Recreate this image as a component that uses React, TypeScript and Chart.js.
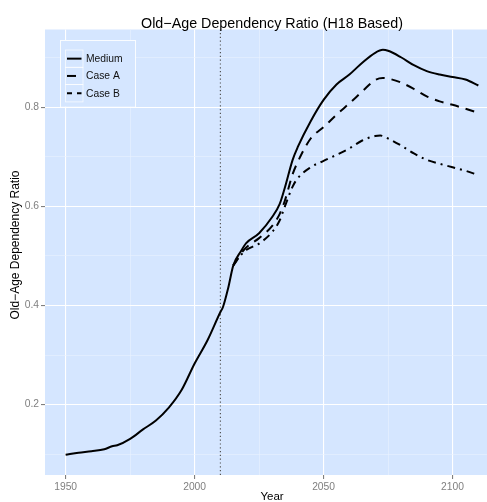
import React, { useEffect, useRef } from "react";
import { Chart, registerables } from "chart.js";

Chart.register(...registerables);

// Old-age dependency ratio, medium variant and two alternative projections
const mediumYears = [1950, 1955, 1960, 1965, 1968, 1970, 1975, 1980, 1985, 1990, 1995, 2000, 2005, 2010, 2011, 2013, 2015, 2018, 2020, 2025, 2030, 2033, 2035, 2038, 2040, 2045, 2050, 2055, 2060, 2065, 2070, 2073, 2075, 2080, 2085, 2090, 2095, 2100, 2105, 2110];
const mediumRatio = [0.099, 0.103, 0.106, 0.110, 0.116, 0.118, 0.131, 0.150, 0.168, 0.194, 0.230, 0.283, 0.330, 0.387, 0.397, 0.435, 0.481, 0.510, 0.526, 0.546, 0.578, 0.605, 0.638, 0.694, 0.720, 0.772, 0.815, 0.846, 0.866, 0.890, 0.910, 0.916, 0.914, 0.901, 0.885, 0.873, 0.866, 0.861, 0.856, 0.844];

const caseAYears = [2015, 2018, 2020, 2025, 2030, 2033, 2035, 2038, 2040, 2045, 2050, 2055, 2060, 2065, 2070, 2073, 2075, 2080, 2085, 2090, 2095, 2100, 2105, 2110];
const caseARatio = [0.481, 0.505, 0.517, 0.536, 0.560, 0.585, 0.612, 0.665, 0.690, 0.737, 0.760, 0.785, 0.808, 0.832, 0.855, 0.859, 0.858, 0.850, 0.837, 0.822, 0.812, 0.805, 0.797, 0.789];

const caseBYears = [2015, 2018, 2020, 2025, 2030, 2033, 2035, 2038, 2040, 2045, 2050, 2055, 2060, 2065, 2070, 2072, 2075, 2080, 2085, 2090, 2095, 2100, 2105, 2110];
const caseBRatio = [0.481, 0.502, 0.512, 0.525, 0.548, 0.572, 0.600, 0.640, 0.657, 0.679, 0.692, 0.704, 0.717, 0.733, 0.742, 0.743, 0.737, 0.723, 0.707, 0.694, 0.686, 0.679, 0.672, 0.663];

const projectionStart = 2010;

const xMajorTicks = [1950, 2000, 2050, 2100];
const xMinorTicks = [1975, 2025, 2075];
const yMajorTicks = [0.2, 0.4, 0.6, 0.8];
const yMinorTicks = [0.1, 0.3, 0.5, 0.7, 0.9];

const X_MIN = 1942;
const X_MAX = 2118;
const Y_MIN = 0.058;
const Y_MAX = 0.957;

const TITLE = "Old\u2212Age Dependency Ratio (H18 Based)";
const X_TITLE = "Year";
const Y_TITLE = "Old\u2212Age Dependency Ratio";

const FONT = '"Liberation Sans", Arial, Helvetica, sans-serif';
const PANEL_BG = "#D5E6FF";
const MAJOR_GRID = "#FFFFFF";
const MINOR_GRID = "#E9F2FF";
const TICK_GREY = "#7F7F7F";

const toPoints = (xs: number[], ys: number[]) => xs.map((x, i) => ({ x, y: ys[i] }));

const isMajor = (v: number, majors: number[]) => majors.some((m) => Math.abs(m - v) < 1e-9);

const chartDecor = {
  id: "chartDecor",
  beforeDraw(chart: any) {
    const { ctx, chartArea: a } = chart;
    ctx.save();
    ctx.fillStyle = PANEL_BG;
    ctx.fillRect(a.left, a.top, a.right - a.left, a.bottom - a.top);
    ctx.restore();
  },
  afterDraw(chart: any) {
    const { ctx, chartArea: a } = chart;
    ctx.save();
    ctx.fillStyle = "#000";

    // main title
    ctx.font = `14.3px ${FONT}`;
    ctx.textAlign = "center";
    ctx.textBaseline = "alphabetic";
    ctx.fillText(TITLE, (a.left + a.right) / 2, 28);

    // axis titles
    ctx.font = `11.5px ${FONT}`;
    ctx.textBaseline = "middle";
    ctx.fillText(X_TITLE, (a.left + a.right) / 2, 497);
    ctx.save();
    ctx.font = `12px ${FONT}`;
    ctx.translate(16, 245);
    ctx.rotate(-Math.PI / 2);
    ctx.fillText(Y_TITLE, 0, 0);
    ctx.restore();

    // legend inside the panel
    const series = chart.data.datasets.filter((d: any) => d.showInLegend);
    const boxX = 60, boxY = 40, boxW = 75, boxH = 66.7;
    const keyX = 65.5, keyW = 17.5, keyH = 17.3, keyTop = 50;
    ctx.fillStyle = PANEL_BG;
    ctx.fillRect(boxX, boxY, boxW, boxH);
    ctx.strokeStyle = "rgba(255,255,255,0.85)";
    ctx.lineWidth = 1;
    ctx.strokeRect(boxX + 0.5, boxY + 0.5, boxW, boxH);
    series.forEach((d: any, i: number) => {
      const ky = keyTop + i * keyH;
      ctx.strokeStyle = "rgba(255,255,255,0.8)";
      ctx.lineWidth = 0.8;
      ctx.setLineDash([]);
      ctx.strokeRect(keyX, ky, keyW, keyH);
      const cy = ky + keyH / 2;
      ctx.strokeStyle = d.borderColor;
      ctx.lineWidth = d.borderWidth;
      ctx.setLineDash(d.legendDash || []);
      ctx.beginPath();
      ctx.moveTo(keyX + 1.5, cy);
      ctx.lineTo(keyX + keyW - 1.5, cy);
      ctx.stroke();
      ctx.setLineDash([]);
      ctx.fillStyle = "#111";
      ctx.font = `10.3px ${FONT}`;
      ctx.textAlign = "left";
      ctx.textBaseline = "middle";
      ctx.fillText(d.label, keyX + keyW + 3, cy + 0.5);
    });
    ctx.restore();
  },
};

export default function App() {
  const canvasRef = useRef<HTMLCanvasElement | null>(null);

  useEffect(() => {
    const canvas = canvasRef.current;
    if (!canvas) return;

    const lineStyle = {
      borderColor: "#000000",
      borderWidth: 2,
      pointRadius: 0,
      fill: false,
      cubicInterpolationMode: "monotone" as const,
      order: 0,
      showInLegend: true,
    };

    const chart = new Chart(canvas, {
      type: "line",
      data: {
        datasets: [
          { ...lineStyle, label: "Medium", data: toPoints(mediumYears, mediumRatio), legendDash: [] },
          { ...lineStyle, label: "Case A", data: toPoints(caseAYears, caseARatio), borderDash: [9, 7], legendDash: [9, 7] },
          { ...lineStyle, label: "Case B", data: toPoints(caseBYears, caseBRatio), borderDash: [8, 5, 2, 5], legendDash: [5, 5] },
          {
            label: "projection start",
            data: [
              { x: projectionStart, y: Y_MIN },
              { x: projectionStart, y: Y_MAX },
            ],
            borderColor: "#555555",
            borderWidth: 1.2,
            borderDash: [1.2, 2.6],
            pointRadius: 0,
            fill: false,
            order: 10,
            showInLegend: false,
          },
        ] as any,
      },
      options: {
        responsive: false,
        maintainAspectRatio: false,
        animation: false,
        devicePixelRatio: 1,
        layout: { padding: { top: 29.5, right: 1, left: 0, bottom: 0 } },
        plugins: {
          legend: { display: false },
          title: { display: false },
          tooltip: { enabled: false },
        },
        scales: {
          x: {
            type: "linear",
            min: X_MIN,
            max: X_MAX,
            border: { display: false },
            afterBuildTicks: (scale: any) => {
              scale.ticks = [...xMajorTicks, ...xMinorTicks].sort((p, q) => p - q).map((value) => ({ value }));
            },
            afterFit: (scale: any) => {
              scale.height = 27;
            },
            grid: {
              color: (c: any) => (isMajor(c.tick.value, xMajorTicks) ? MAJOR_GRID : MINOR_GRID),
              lineWidth: (c: any) => (isMajor(c.tick.value, xMajorTicks) ? 1.1 : 0.6),
              tickColor: (c: any) => (isMajor(c.tick.value, xMajorTicks) ? TICK_GREY : "rgba(0,0,0,0)"),
              tickLength: 4,
              drawTicks: true,
            },
            ticks: {
              autoSkip: false,
              maxRotation: 0,
              padding: 2,
              color: TICK_GREY,
              font: { family: FONT, size: 10.3 },
              callback: (v: any) => (isMajor(Number(v), xMajorTicks) ? String(v) : ""),
            },
          },
          y: {
            type: "linear",
            min: Y_MIN,
            max: Y_MAX,
            border: { display: false },
            afterBuildTicks: (scale: any) => {
              scale.ticks = [...yMajorTicks, ...yMinorTicks].sort((p, q) => p - q).map((value) => ({ value }));
            },
            afterFit: (scale: any) => {
              scale.width = 45;
            },
            grid: {
              color: (c: any) => (isMajor(c.tick.value, yMajorTicks) ? MAJOR_GRID : MINOR_GRID),
              lineWidth: (c: any) => (isMajor(c.tick.value, yMajorTicks) ? 1.1 : 0.6),
              tickColor: (c: any) => (isMajor(c.tick.value, yMajorTicks) ? TICK_GREY : "rgba(0,0,0,0)"),
              tickLength: 4,
              drawTicks: true,
            },
            ticks: {
              autoSkip: false,
              padding: 2,
              color: TICK_GREY,
              font: { family: FONT, size: 10.3 },
              callback: (v: any) => (isMajor(Number(v), yMajorTicks) ? Number(v).toFixed(1) : ""),
            },
          },
        },
      } as any,
      plugins: [chartDecor],
    });

    return () => chart.destroy();
  }, []);

  return (
    <div
      style={{
        position: "absolute",
        left: 0,
        top: 0,
        width: 487,
        height: 502,
        overflow: "hidden",
        background: "#ffffff",
      }}
    >
      <canvas ref={canvasRef} width={500} height={502} style={{ display: "block", width: 500, height: 502 }} />
    </div>
  );
}
